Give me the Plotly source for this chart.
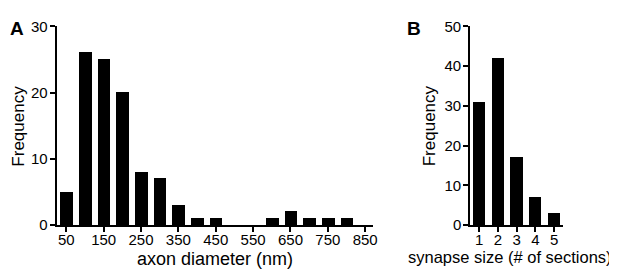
import plotly.graph_objects as go

# Panel A data
axon_bins = [50, 100, 150, 200, 250, 300, 350, 400, 450, 500, 550, 600, 650, 700, 750, 800]
axon_freq = [5, 26, 25, 20, 8, 7, 3, 1, 1, 0, 0, 1, 2, 1, 1, 1]
axon_ticks = [50, 150, 250, 350, 450, 550, 650, 750, 850]
freq_ticks_a = [0, 10, 20, 30]

# Panel B data
syn_sizes = [1, 2, 3, 4, 5]
syn_freq = [31, 42, 17, 7, 3]
freq_ticks_b = [0, 10, 20, 30, 40, 50]

W, H = 617, 271
FONT = "Liberation Sans, Arial, Helvetica, sans-serif"

fig = go.Figure()
fig.add_trace(go.Bar(x=axon_bins, y=axon_freq, width=34, marker_color="black",
                     marker_line_width=0, xaxis="x", yaxis="y"))
fig.add_trace(go.Bar(x=syn_sizes, y=syn_freq, width=0.65, marker_color="black",
                     marker_line_width=0, xaxis="x2", yaxis="y2"))

def px(x):
    return x / W

def py(y):
    return 1 - y / H

axis_common = dict(showline=True, linecolor="black", linewidth=2, ticks="outside",
                   ticklen=5, tickwidth=2, tickcolor="black", showgrid=False,
                   zeroline=False, tickfont=dict(family=FONT, size=15, color="black"),
                   fixedrange=True)

fig.update_layout(
    width=W, height=H,
    margin=dict(l=0, r=0, t=0, b=0),
    paper_bgcolor="white", plot_bgcolor="white",
    showlegend=False,
    bargap=0,
    font=dict(family=FONT, color="black"),
    xaxis=dict(domain=[px(49), px(368)], range=[24, 871], tickvals=axon_ticks,
               anchor="y", ticklabelstandoff=-5, **axis_common),
    yaxis=dict(domain=[py(222), py(10)], range=[0, 30], tickvals=freq_ticks_a,
               anchor="x", ticklabelstandoff=-1, **axis_common),
    xaxis2=dict(domain=[px(466), px(560)], range=[0.52, 5.5], tickvals=syn_sizes,
                anchor="y2", ticklabelstandoff=-5, **axis_common),
    yaxis2=dict(domain=[py(222), py(10)], range=[0, 50], tickvals=freq_ticks_b,
                anchor="x2", ticklabelstandoff=-1, **axis_common),
)

def ann(text, x, y, size, bold=False, angle=0):
    fig.add_annotation(text=f"<b>{text}</b>" if bold else text, x=px(x), y=py(y),
                       xref="paper", yref="paper", showarrow=False, textangle=angle,
                       xanchor="center", yanchor="middle",
                       font=dict(family=FONT, size=size, color="black"))

ann("A", 9, 12, 19, bold=True)
ann("B", 409, 12, 19, bold=True)
ann("Frequency", 11, 116, 17, angle=-90)
ann("Frequency", 425, 116, 17, angle=-90)
ann("axon diameter (nm)", 209, 258, 18)
ann("synapse size (# of sections)", 506, 256, 16.5)

fig.write_html("out.html")
